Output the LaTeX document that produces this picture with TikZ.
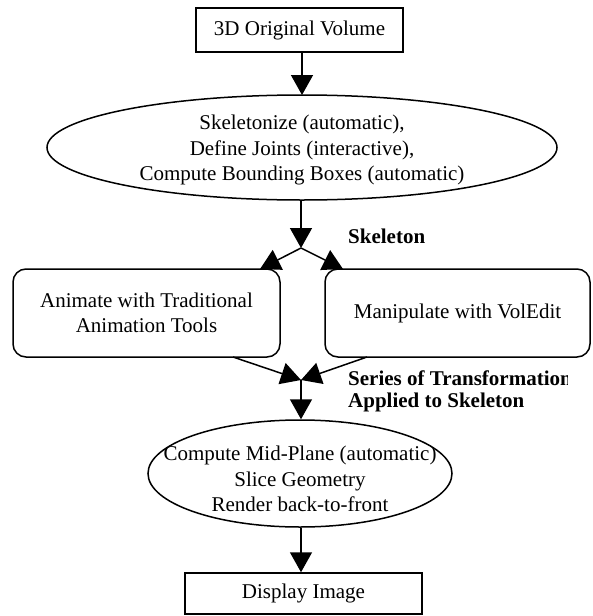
\documentclass[tikz,border=0pt]{standalone}
\usepackage{fontspec}
\setmainfont{Liberation Serif}
\usetikzlibrary{shapes.geometric,arrows.meta}
\begin{document}
\begin{tikzpicture}[x=1pt,y=-1pt,
  every node/.style={font=\fontsize{21}{25.5}\selectfont},
  sq/.style={draw,line width=1.5pt,rectangle,inner sep=0pt,align=center},
  rbox/.style={draw,line width=1.5pt,rectangle,rounded corners=13pt,inner sep=0pt,align=center},
  ell/.style={draw,line width=1.5pt,ellipse,inner sep=0pt},
  txt/.style={inner sep=0pt,align=center},
  lbl/.style={inner sep=0pt,anchor=west,font=\fontsize{21}{25.5}\selectfont\bfseries},
  arr/.style={line width=1.5pt,-{Triangle[length=20pt,width=22pt]}},
  ln/.style={line width=1.5pt}
]
\useasboundingbox (0,0) rectangle (593,616);

\node[sq,minimum width=207pt,minimum height=44pt] (orig) at (299.5,30) {3D Original Volume};

\node[ell,minimum width=510pt,minimum height=105pt] (e1) at (302,147.5) {};
\node[txt] (e1t) at (302,150) {Skeletonize (automatic),\\Define Joints (interactive),\\Compute Bounding Boxes (automatic)};

\coordinate (j1) at (301,248);

\node[rbox,minimum width=267pt,minimum height=88pt] (left) at (146.5,313) {Animate with Traditional\\Animation Tools};
\node[rbox,minimum width=265pt,minimum height=88pt] (right) at (457.5,313) {Manipulate with VolEdit};

\coordinate (j2) at (301,380);

\node[ell,minimum width=304pt,minimum height=107pt] (e2) at (300,473.5) {};
\node[txt] (e2t) at (300,479) {Compute Mid-Plane (automatic)\\Slice Geometry\\Render back-to-front};

\node[sq,minimum width=237pt,minimum height=41pt] (disp) at (303.5,593.5) {Display Image};

\node[lbl] (skel) at (348,236) {Skeleton};
\begin{scope}
  \clip (340,360) rectangle (567,392);
  \node[lbl] (ser1) at (348,378) {Series of Transformation};
\end{scope}
\node[lbl] (ser2) at (348,402) {Applied to Skeleton};

\coordinate (o1) at (orig.south -| 302,0);
\coordinate (e1top) at (302,95);
\draw[arr] (o1) -- (e1top);
\draw[arr] (e1.south -| j1) -- (j1);
\coordinate (lt) at (260,269);
\coordinate (rt) at (343,269);
\draw[arr] (j1) -- (lt);
\draw[arr] (j1) -- (rt);
\coordinate (lb) at (233,357);
\coordinate (rb) at (367,357);
\draw[arr] (lb) -- (j2);
\draw[arr] (rb) -- (j2);
\draw[arr] (j2) -- (e2.north -| j2);
\draw[arr] (e2.south -| j2) -- (disp.north -| j2);
\end{tikzpicture}
\end{document}
